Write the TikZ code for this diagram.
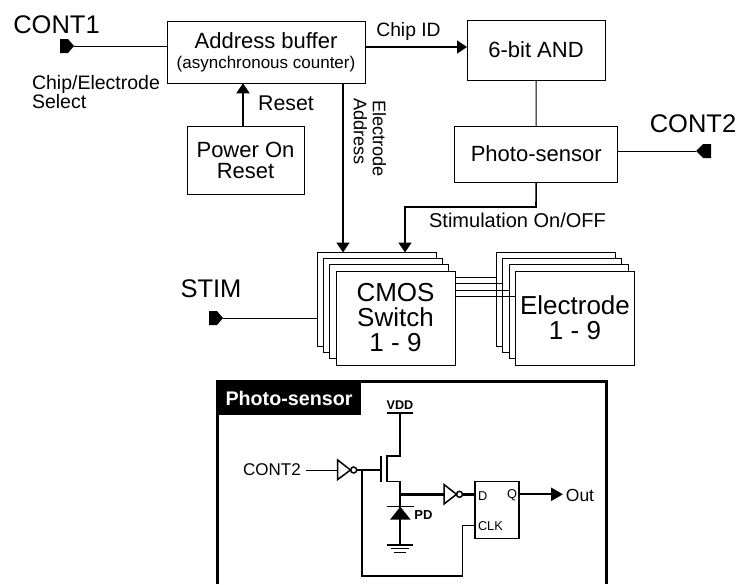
\documentclass[tikz,border=0pt]{standalone}
\usepackage{fontspec}
\setmainfont{Liberation Sans}
\usetikzlibrary{arrows.meta,calc}
\newcommand{\fs}[1]{\fontsize{#1}{#1}\selectfont}
\tikzset{
  wire/.style={line width=1pt,draw=black},
  thickw/.style={line width=2.8pt,draw=black},
  arr/.style={line width=1.6pt,-{Triangle[length=10pt,width=13pt]}},
  block/.style={draw=black,line width=1pt,fill=white,inner sep=0pt,outer sep=0pt,align=center},
  stackbox/.style={block,minimum width=119pt,minimum height=94pt},
  txt/.style={inner sep=0pt,outer sep=0pt,align=left},
  port/.style={fill=black},
  circ/.style={line width=1.5pt,draw=black},
}
\begin{document}
\begin{tikzpicture}[x=1pt,y=-1pt]
\useasboundingbox (0,0) rectangle (739,584);
% blocks
\node[block,font=\fs{22},minimum width=198pt,minimum height=61.5pt] (addr) at (266,52.5)
  {Address buffer\\[-2pt]\fs{17}(asynchronous counter)};
\node[block,font=\fs{22},minimum width=117pt,minimum height=68pt] (por) at (245.5,160)
  {Power On\\[-1pt]Reset};
\node[block,font=\fs{22},minimum width=138pt,minimum height=60pt] (and) at (536,50) {6-bit AND};
\node[block,font=\fs{22},minimum width=162.5pt,minimum height=56pt] (ps) at (536.2,154) {Photo-sensor};
% stacks
\node[stackbox] (c1) at (377,299.5) {};
\node[stackbox] (c2) at (383.2,305.6) {};
\node[stackbox] (c3) at (389.4,311.7) {};
\node[stackbox,font=\fs{26}] (c4) at (395.5,318) {CMOS\\[-1pt]Switch\\[-1pt]1 - 9};
\node[stackbox] (e1) at (556.2,299.5) {};
\node[stackbox] (e2) at (562.4,305.6) {};
\node[stackbox] (e3) at (568.6,311.7) {};
\node[stackbox,font=\fs{26}] (e4) at (575,318) {Electrode\\[-1pt]1 - 9};
% bus lines
\coordinate (b1) at (455,277.7);
\coordinate (b2) at (455,283.8);
\coordinate (b3) at (455,290);
\coordinate (b4) at (455,296);
\draw[wire] (b1) -- (b1 -| e1.west);
\draw[wire] (b2) -- (b2 -| e2.west);
\draw[wire] (b3) -- (b3 -| e3.west);
\draw[wire] (b4) -- (b4 -| e4.west);
% ports
\coordinate (p1) at (74,46);
\fill[port] (60,39) -- (68,39) -- (74,46) -- (68,53) -- (60,53) -- cycle;
\draw[wire] (p1) -- (p1 -| addr.west);
\coordinate (p2) at (696,151);
\fill[port] (711,144) -- (703,144) -- (696,151) -- (703,158) -- (711,158) -- cycle;
\draw[wire] (p2) -- (p2 -| ps.east);
\coordinate (p3) at (223,318);
\fill[port] (209,311) -- (217,311) -- (223,318) -- (217,325) -- (209,325) -- cycle;
\draw[wire] (p3) -- (p3 -| c1.west);
% arrows
\draw[arr] (por.north -| 243,0) -- (addr.south -| 243,0);
\draw[arr] (addr.south -| 343,0) -- (c1.north -| 343,0);
\draw[arr] (addr.east |- 0,47) -- (and.west |- 0,47);
\draw[wire] (and.south) -- (ps.north);
\coordinate (k) at (536,207);
\draw[arr] (ps.south) -- (k) -| (405,252.5);
% labels
\node[txt,font=\fs{25.5}] (t1) at (56.5,24.5) {CONT1};
\node[txt,font=\fs{25.5}] (t2) at (693,124) {CONT2};
\node[txt,font=\fs{25.5}] (t3) at (211,289) {STIM};
\node[txt,font=\fs{19.5},anchor=west] (t4) at (32,92.5) {Chip/Electrode\\[-0.5pt]Select};
\node[txt,font=\fs{21.3}] (t5) at (286,103) {Reset};
\node[txt,font=\fs{19.3}] (t6) at (408.5,32) {Chip ID};
\node[txt,font=\fs{20}] (t7) at (517.5,220) {Stimulation On/OFF};
\node[txt,font=\fs{18.2},rotate=-90,anchor=west] (t8) at (360.5,98) {Address};
\node[txt,font=\fs{18.2},rotate=-90,anchor=west] (t9) at (379.5,100) {Electrode};
% inset frame
\draw[line width=2.6pt] (217.3,584) -- (217.3,381.5) -- (606.7,381.5) -- (606.7,584);
\node[fill=black,text=white,font=\bfseries\fs{19.7},minimum width=144pt,minimum height=33pt,inner sep=0pt] (tab) at (289,398) {Photo-sensor};
% circuit
\coordinate (vb) at (400,413);
\draw[circ] (387,413) -- (413,413);
\node[txt,font=\bfseries\fs{12.6}] (vdd) at (400,405.5) {VDD};
\draw[circ] (vb) -- (400,456) -- (387,456) -- (387,481.7) -- (400,481.7) -- (400,545);
\draw[line width=1.5pt] (381,456) -- (381,482);
% inverter 1
\node[txt,font=\fs{17}] (c2t) at (272,470) {CONT2};
\coordinate (i1in) at (337.7,470);
\coordinate (g) at (381,470);
\coordinate (jn) at (362,470);
\draw[wire] (306,470) -- (i1in);
\draw[circ,fill=white] (337.7,460) -- (350.5,470) -- (337.7,479.5) -- cycle;
\draw[circ] (353.7,470) circle (3);
\draw[circ] (356.7,470) -- (g);
% clk route
\node[block,line width=1.3pt,minimum width=44pt,minimum height=56.5pt] (ff) at (497,510) {};
\draw[circ] (jn) -- (362,576) -- (462.7,576) -- (462.7,525.7) -- (ff.west |- 0,525.7);
% D path
\coordinate (i2in) at (444,494.3);
\draw[thickw] (400,494.3) -- (i2in);
\draw[circ,fill=white] (444,484.5) -- (456.5,494.3) -- (444,504) -- cycle;
\draw[circ] (459.5,494.3) circle (3);
\draw[thickw] (462.5,494.3) -- (ff.west |- 0,494.3);
\draw[line width=2.2pt,-{Triangle[length=12pt,width=13pt]}] (ff.east |- 0,494.3) -- (563,494.3);
\node[txt,font=\fs{17.5}] (out) at (580,495) {Out};
\node[txt,font=\fs{12.8},anchor=west] (dl) at (478,496.5) {D};
\node[txt,font=\fs{12.8},anchor=west] (cl) at (478,526) {CLK};
\node[txt,font=\fs{12.8},anchor=east] (ql) at (517,495) {Q};
% diode
\fill (390,519.7) -- (410.7,519.7) -- (400.3,506.7) -- cycle;
\draw[circ] (387,506.7) -- (414,506.7);
\node[txt,font=\bfseries\fs{13}] (pd) at (423.5,515.5) {PD};
% ground
\draw[circ] (387,545) -- (413,545);
\draw[circ] (391,548.7) -- (409,548.7);
\draw[circ] (394,552.5) -- (406,552.5);
\end{tikzpicture}
\end{document}
